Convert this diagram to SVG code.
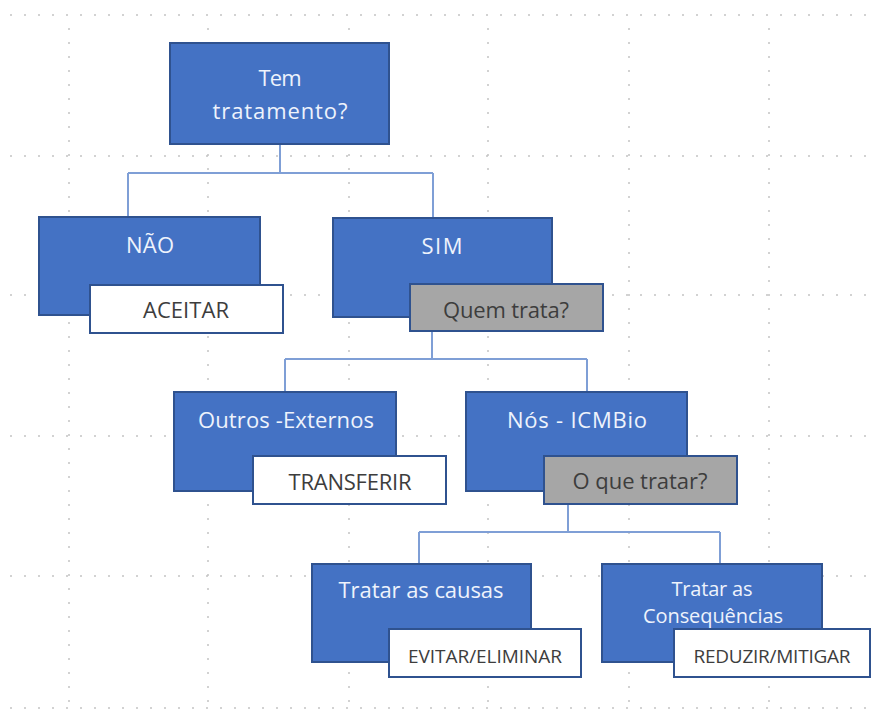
<svg xmlns="http://www.w3.org/2000/svg" width="872" height="713" viewBox="0 0 872 713">
  <style>
    .grid line { stroke: #c4c4c4; stroke-width: 1.5; stroke-dasharray: 2 12; }
    .box { fill: #4472c4; stroke: #2f528f; stroke-width: 2; }
    .tag { fill: #ffffff; stroke: #2f528f; stroke-width: 2; }
    .ask { fill: #a6a6a6; stroke: #2f528f; stroke-width: 2; }
    .links path { fill: none; stroke: #7f9fd6; stroke-width: 2; }
    text { font-family: "Open Sans", "Noto Sans", "Liberation Sans", sans-serif; font-size: 22px; text-anchor: middle; }
    .light { fill: #eef3fc; }
    .dark { fill: #3d3d3d; }
    .small { font-size: 19px; }
    .two { font-size: 20px; }
  </style>
  <rect width="872" height="713" fill="#ffffff"/>

  <!-- page grid -->
  <g class="grid">
    <line x1="10" y1="15" x2="872" y2="15"/>
    <line x1="10" y1="156" x2="872" y2="156"/>
    <line x1="10" y1="295" x2="872" y2="295"/>
    <line x1="10" y1="436" x2="872" y2="436"/>
    <line x1="10" y1="576" x2="872" y2="576"/>
    <line x1="10" y1="708" x2="872" y2="708"/>
    <line x1="69" y1="28" x2="69" y2="708"/>
    <line x1="208" y1="28" x2="208" y2="708"/>
    <line x1="349" y1="28" x2="349" y2="708"/>
    <line x1="488" y1="28" x2="488" y2="708"/>
    <line x1="629" y1="28" x2="629" y2="708"/>
    <line x1="769" y1="28" x2="769" y2="708"/>
  </g>

  <!-- connectors -->
  <g class="links" id="connectors">
    <path d="M280,144 V173 M128,173 H433 M128,173 V217 M433,173 V218"/>
    <path d="M432,331 V359 M285,359 H587 M285,359 V392 M587,359 V392"/>
    <path d="M568,504 V532 M419,532 H720 M419,532 V564 M720,532 V564"/>
  </g>

  <g id="tem-tratamento">
    <rect class="box" x="170" y="43" width="219" height="101"/>
    <text class="light" x="280" y="86" textLength="43" lengthAdjust="spacing">Tem</text>
    <text class="light" x="280" y="119" textLength="135" lengthAdjust="spacing">tratamento?</text>
  </g>

  <g id="nao">
    <rect class="box" x="39" y="217" width="221" height="98"/>
    <text class="light" x="150" y="253" textLength="48" lengthAdjust="spacing">NÃO</text>
  </g>
  <g id="aceitar">
    <rect class="tag" x="90" y="285" width="193" height="48"/>
    <text class="dark" x="186" y="318" textLength="86" lengthAdjust="spacing">ACEITAR</text>
  </g>

  <g id="sim">
    <rect class="box" x="333" y="218" width="219" height="99"/>
    <text class="light" x="442" y="254" textLength="41" lengthAdjust="spacing">SIM</text>
  </g>
  <g id="quem-trata">
    <rect class="ask" x="410" y="284" width="193" height="47"/>
    <text class="dark" x="506" y="318" textLength="126" lengthAdjust="spacing">Quem trata?</text>
  </g>

  <g id="outros-externos">
    <rect class="box" x="174" y="392" width="222" height="99"/>
    <text class="light" x="286" y="428" textLength="176" lengthAdjust="spacing">Outros -Externos</text>
  </g>
  <g id="transferir">
    <rect class="tag" x="253" y="456" width="193" height="48"/>
    <text class="dark" x="350" y="490" font-size="21" textLength="123" lengthAdjust="spacing">TRANSFERIR</text>
  </g>

  <g id="nos-icmbio">
    <rect class="box" x="466" y="392" width="221" height="99"/>
    <text class="light" x="577" y="428" textLength="140" lengthAdjust="spacing">Nós - ICMBio</text>
  </g>
  <g id="o-que-tratar">
    <rect class="ask" x="544" y="456" width="193" height="48"/>
    <text class="dark" x="640" y="489" textLength="135" lengthAdjust="spacing">O que tratar?</text>
  </g>

  <g id="tratar-causas">
    <rect class="box" x="312" y="564" width="219" height="98"/>
    <text class="light" x="421" y="598" textLength="165" lengthAdjust="spacing">Tratar as causas</text>
  </g>
  <g id="evitar-eliminar">
    <rect class="tag" x="389" y="629" width="192" height="48"/>
    <text class="dark small" x="485" y="663" textLength="154" lengthAdjust="spacing">EVITAR/ELIMINAR</text>
  </g>

  <g id="tratar-consequencias">
    <rect class="box" x="602" y="564" width="220" height="98"/>
    <text class="light two" x="712" y="596" textLength="81" lengthAdjust="spacing">Tratar as</text>
    <text class="light two" x="713" y="623" textLength="140" lengthAdjust="spacing">Consequências</text>
  </g>
  <g id="reduzir-mitigar">
    <rect class="tag" x="674" y="629" width="196" height="48"/>
    <text class="dark small" x="772" y="663" textLength="157" lengthAdjust="spacing">REDUZIR/MITIGAR</text>
  </g>
</svg>
